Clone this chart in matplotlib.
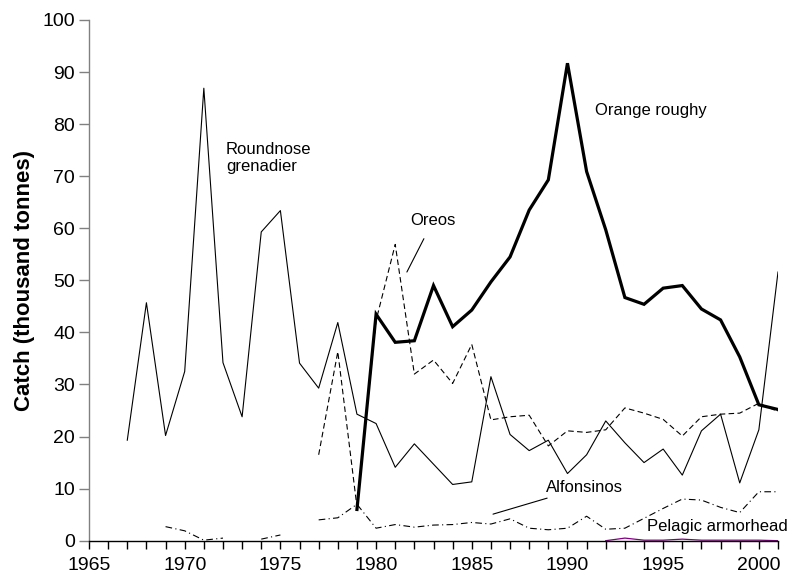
import numpy as np
import matplotlib
matplotlib.use("Agg")
import matplotlib.pyplot as plt

# Catch data, thousand tonnes (nan = no value)
nan = np.nan
years = np.arange(1967, 2002)

roundnose = [19.3, 45.7, 20.2, 32.5, 86.9, 34.2, 23.8, 59.3, 63.4, 34.1,
             29.3, 41.9, 24.3, 22.5, 14.1, 18.6, 14.7, 10.8, 11.3, 31.5,
             20.4, 17.3, 19.3, 12.9, 16.5, 23.0, 18.8, 15.0, 17.6, 12.6,
             21.1, 24.3, 11.1, 21.3, 51.6]

orange_roughy = [nan, nan, nan, nan, nan, nan, nan, nan, nan, nan,
                 nan, nan, 6.0, 43.5, 38.1, 38.4, 49.0, 41.1, 44.3, 49.7,
                 54.5, 63.5, 69.3, 91.7, 70.9, 59.7, 46.7, 45.4, 48.5, 49.0,
                 44.5, 42.4, 35.3, 26.1, 25.2]

oreos = [nan, nan, nan, nan, nan, nan, nan, nan, nan, nan,
         16.5, 36.3, 6.5, 42.3, 56.9, 32.0, 34.7, 30.2, 37.7, 23.2,
         23.8, 24.1, 18.2, 21.1, 20.8, 21.3, 25.5, 24.5, 23.3, 20.1,
         23.8, 24.3, 24.5, 26.4, 24.8]

alfonsinos = [nan, nan, 2.7, 1.9, 0.1, 0.5, nan, 0.3, 1.1, nan,
              4.0, 4.4, 7.0, 2.4, 3.1, 2.6, 3.0, 3.1, 3.5, 3.2,
              4.2, 2.4, 2.1, 2.4, 4.7, 2.2, 2.4, 4.3, 6.2, 8.0,
              7.8, 6.4, 5.4, 9.4, 9.4]

armorhead = [nan, nan, nan, nan, nan, nan, nan, nan, nan, nan,
             nan, nan, nan, nan, nan, nan, nan, nan, nan, nan,
             nan, nan, nan, nan, nan, 0.0, 0.5, 0.1, 0.1, 0.3,
             0.1, 0.1, 0.1, 0.1, 0.0]

plt.rcParams["font.family"] = ["Liberation Sans", "DejaVu Sans"]

fig = plt.figure(figsize=(7.92, 5.82), dpi=100)
ax = fig.add_axes([89 / 792, 41.3 / 582, 689 / 792, 520.7 / 582])

ax.plot(years, roundnose, color="black", lw=0.8)
ax.plot(years, oreos, color="black", lw=0.8, dashes=(5, 3))
ax.plot(years, alfonsinos, color="black", lw=0.8, dashes=(6, 3, 1, 3))
ax.plot(years, armorhead, color="#800080", lw=0.9)
ax.plot(years, orange_roughy, color="black", lw=2.3, solid_joinstyle="miter")

ax.set_xlim(1965, 2001)
ax.set_ylim(0, 100)
ax.set_xticks(np.arange(1965, 2001, 5))
ax.set_xticks(np.arange(1965, 2002, 1), minor=True)
ax.set_yticks(np.arange(0, 101, 10))

for s in ["top", "right"]:
    ax.spines[s].set_visible(False)
ax.spines["left"].set_color("#808080")
ax.spines["left"].set_linewidth(1.0)
ax.spines["bottom"].set_color("black")
ax.spines["bottom"].set_linewidth(1.0)

ax.tick_params(axis="y", direction="out", length=7, width=1, color="#808080",
               labelsize=14, pad=3)
ax.tick_params(axis="x", which="both", direction="out", length=6, width=1,
               color="black", labelsize=14, pad=6)
ax.tick_params(axis="x", which="minor", labelbottom=False)

ax.set_ylabel("Catch (thousand tonnes)", fontsize=16, fontweight="bold")
ax.yaxis.set_label_coords(-0.0784, 0.5)

ax.text(1972.16, 73.5, "Roundnose\ngrenadier", fontsize=12, va="center", ha="left",
        linespacing=1.15)
ax.text(1991.44, 82.7, "Orange roughy", fontsize=12, va="center", ha="left")
ax.annotate("Oreos", xy=(1981.61, 51.6), xytext=(1982.97, 61.4), fontsize=12,
            ha="center", va="center",
            arrowprops=dict(arrowstyle="-", color="black", lw=0.8, shrinkA=6, shrinkB=0))
ax.annotate("Alfonsinos", xy=(1986.11, 5.1), xytext=(1988.88, 10.3), fontsize=12,
            ha="left", va="center",
            arrowprops=dict(arrowstyle="-", color="black", lw=0.8, shrinkA=2, shrinkB=0))
ax.text(1994.15, 2.8, "Pelagic armorhead", fontsize=12, va="center", ha="left")

fig.savefig("out.png", dpi=100)
